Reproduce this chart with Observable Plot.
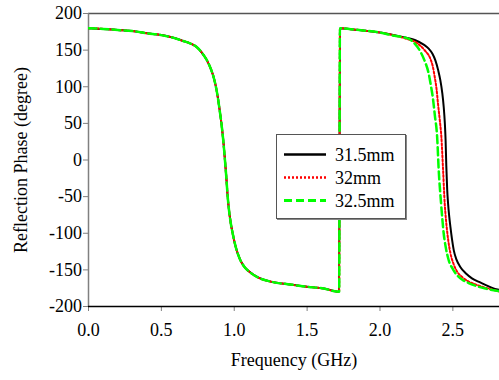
<!DOCTYPE html>
<html>
<head>
<meta charset="utf-8">
<script src="https://cdn.jsdelivr.net/npm/d3@7"></script>
<script src="https://cdn.jsdelivr.net/npm/@observablehq/plot@0.6"></script>
<style>
  html, body { margin: 0; padding: 0; background: white; }
  #wrap { position: relative; width: 499px; height: 380px; font-family: "Liberation Serif", "Times New Roman", Times, "DejaVu Serif", serif; }
  #wrap svg text { font-family: "Liberation Serif", "Times New Roman", Times, "DejaVu Serif", serif; }
  #legend { position: absolute; left: 276px; top: 134px; width: 128px; height: 83px;
            background: white; border: 1px solid #555; box-shadow: 1px 1px 0 #888; }
</style>
</head>
<body>
<div id="wrap"><div id="chart"></div><div id="legend"></div></div>
<script>
// Series names and styles (legend order)
const seriesNames = ["31.5mm", "32mm", "32.5mm"];
const seriesColors = ["#000000", "#ff0000", "#00ff00"];

// Low band (shared by all three series: curves overlap)
const freqLow = [0, 0.1, 0.2, 0.3, 0.4, 0.5, 0.57, 0.65, 0.70, 0.74, 0.78, 0.81, 0.84, 0.86, 0.88, 0.90, 0.915, 0.925, 0.935, 0.945, 0.955, 0.965, 0.976, 0.99, 1.008, 1.038, 1.07, 1.10, 1.17, 1.25, 1.385, 1.5, 1.614, 1.72];
const phaseLow = [180, 179, 177.5, 176, 173, 170.5, 167.5, 162.5, 159, 154.5, 146, 137, 124, 112, 94, 68, 45, 26, 3, -22, -50, -70, -86, -101, -117, -135, -146, -152, -161, -166, -170, -173, -175.5, -180];

// High band, 31.5mm
const freqHigh315 = [1.725, 1.8, 1.9, 2.0, 2.1, 2.18, 2.243, 2.30, 2.334, 2.36, 2.38, 2.40, 2.414, 2.427, 2.437, 2.445, 2.45, 2.455, 2.461, 2.467, 2.475, 2.483, 2.494, 2.506, 2.525, 2.551, 2.59, 2.631, 2.68, 2.723, 2.77, 2.82];
const phaseHigh315 = [180, 178.5, 176.5, 174, 170.5, 167, 163.5, 157.5, 152, 145, 136, 122, 109, 92, 73, 50, 28, -8, -40, -59, -77, -91, -108, -123, -136, -146, -155, -161.5, -166.5, -170.5, -174.5, -177.5];

// High band, 32mm
const freqHigh32 = [1.725, 1.8, 1.9, 2.0, 2.1, 2.18, 2.243, 2.277, 2.31, 2.345, 2.362, 2.375, 2.388, 2.398, 2.41, 2.421, 2.433, 2.444, 2.452, 2.46, 2.47, 2.483, 2.505, 2.528, 2.565, 2.608, 2.65, 2.70, 2.76, 2.82];
const phaseHigh32 = [180, 178.5, 176.5, 174, 170, 165.5, 161, 156, 149, 138.5, 128, 114, 97, 77, 55, 32, -14, -59, -80, -96, -112, -127, -142, -152, -160, -166, -169.5, -173, -176.5, -179.5];

// High band, 32.5mm
const freqHigh325 = [1.725, 1.8, 1.9, 2.0, 2.1, 2.15, 2.197, 2.24, 2.277, 2.305, 2.334, 2.348, 2.362, 2.377, 2.392, 2.403, 2.419, 2.428, 2.437, 2.452, 2.471, 2.5, 2.528, 2.565, 2.608, 2.66, 2.723, 2.77, 2.82];
const phaseHigh325 = [180, 178.5, 176.5, 174, 169.5, 168, 165.5, 158.5, 148, 136, 118, 103, 86, 60, 32, -14, -59, -81, -100, -120, -136.5, -149, -157, -163.5, -168, -172, -175.5, -177.5, -179];

// Axis ticks
const xTicks = [0, 0.5, 1.0, 1.5, 2.0, 2.5];
const yTicks = [-200, -150, -100, -50, 0, 50, 100, 150, 200];
const xLabel = "Frequency (GHz)";
const yLabel = "Reflection Phase (degree)";

const highF = [freqHigh315, freqHigh32, freqHigh325];
const highP = [phaseHigh315, phaseHigh32, phaseHigh325];

function rows(i) {
  const r = [];
  freqLow.forEach((f, k) => r.push({f, p: phaseLow[k], s: seriesNames[i]}));
  highF[i].forEach((f, k) => r.push({f, p: highP[i][k], s: seriesNames[i]}));
  return r;
}

const dashes = [null, "2,2", "8,4"];
const widths = [2, 2, 2.5];

const font = "\"Liberation Serif\", \"Times New Roman\", Times, \"DejaVu Serif\", serif";

const lines = seriesNames.map((n, i) =>
  Plot.line(rows(i), {x: "f", y: "p", stroke: seriesColors[i], strokeWidth: widths[i],
    strokeDasharray: dashes[i], curve: "monotone-x", clip: true})
);

const chart = Plot.plot({
  width: 499,
  height: 380,
  marginLeft: 88,
  marginRight: 0,
  marginTop: 13,
  marginBottom: 74,
  style: {fontFamily: font, fontSize: "18px", background: "white", color: "black", overflow: "visible"},
  x: {domain: [0, 2.82]},
  y: {domain: [-200, 200]},
  marks: [
    Plot.axisY({ticks: yTicks, tickSize: 5, tickFormat: () => "", color: "#808080", label: null}),
    Plot.axisY({ticks: yTicks, tickSize: 0, tickPadding: 6.5, tickFormat: d => String(d), color: "black", fontSize: 18, label: null}),
    Plot.axisX({ticks: xTicks, tickSize: 5, tickFormat: () => "", color: "#808080", label: null}),
    Plot.axisX({ticks: xTicks, tickSize: 0, tickPadding: 17, tickFormat: d3.format(".1f"), color: "black", fontSize: 18, label: null}),
    Plot.ruleY([200], {stroke: "#555", strokeWidth: 1.5}),
    Plot.ruleX([0], {stroke: "#808080", strokeWidth: 1.5}),
    Plot.ruleY([-200], {stroke: "#000", strokeWidth: 1.5}),
    ...lines,
    Plot.text([yLabel], {frameAnchor: "left", textAnchor: "middle", rotate: -90, dx: -67, fontSize: 18, fill: "black"}),
    Plot.text([xLabel], {frameAnchor: "bottom", textAnchor: "middle", dy: 59, fontSize: 18, fill: "black"})
  ]
});
document.getElementById("chart").appendChild(chart);

// Legend
const lg = d3.select("#legend").append("svg").attr("width", 128).attr("height", 83)
  .style("font-family", font).style("font-size", "18px");
seriesNames.forEach((n, i) => {
  const y = 19.5 + i * 23;
  lg.append("line").attr("x1", 7).attr("x2", 49).attr("y1", y).attr("y2", y)
    .attr("stroke", seriesColors[i]).attr("stroke-width", widths[i] + 0.5)
    .attr("stroke-dasharray", dashes[i]);
  lg.append("text").attr("x", 58).attr("y", y).attr("dy", "0.35em").text(n);
});
</script>
</body>
</html>
